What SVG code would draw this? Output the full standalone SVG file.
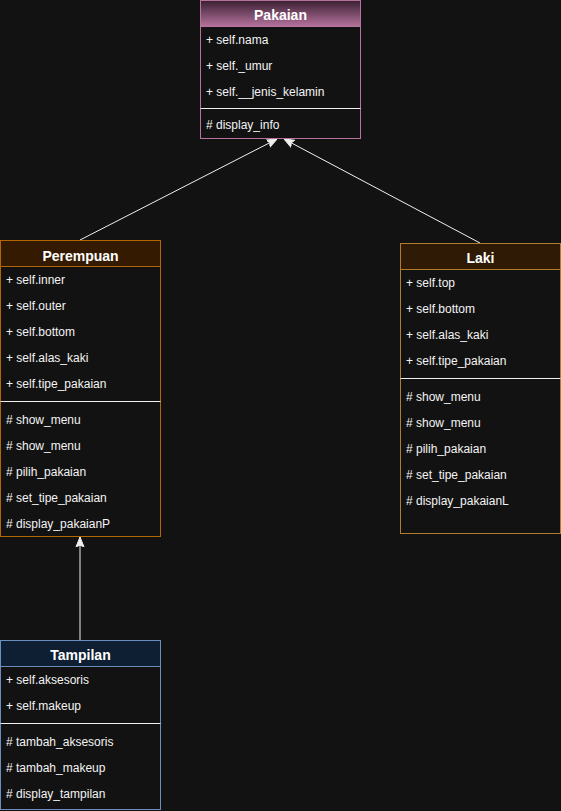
<svg xmlns="http://www.w3.org/2000/svg" width="561" height="811" viewBox="0 0 561 811">
<defs>
<linearGradient id="gPk" x1="0" y1="0" x2="0" y2="1">
<stop offset="0" stop-color="#3a1f31"/>
<stop offset="1" stop-color="#b5739d"/>
</linearGradient>
<marker id="tri" viewBox="0 0 10 10" refX="10" refY="5" markerWidth="10" markerHeight="10" markerUnits="userSpaceOnUse" orient="auto">
<path d="M0,1 L10,5 L0,9 L2,5 Z" fill="#f0f0f0" stroke="#f0f0f0" stroke-width="1"/>
</marker>
<style>
text{font-family:"Liberation Sans",Arial,sans-serif;font-size:12px;fill:#f4f4f4}
.h{font-weight:bold;font-size:14px;text-anchor:middle;fill:#ffffff}
.body{fill:#121212}
.sep{stroke:#f0f0f0;stroke-width:1}
.edge{stroke:#f0f0f0;stroke-width:1;fill:none;marker-end:url(#tri)}
</style>
</defs>
<rect width="561" height="811" fill="#121212"/>
<g id="connectors">
<line class="edge" x1="80" y1="240" x2="277" y2="139"/>
<line class="edge" x1="480" y1="243" x2="284" y2="139"/>
<line class="edge" x1="80" y1="640" x2="80" y2="537"/>
</g>
<g id="Pakaian">
<rect x="200.5" y="0.5" width="160" height="138" class="body" stroke="#b5739d"/>
<rect x="200.5" y="0.5" width="160" height="26" fill="url(#gPk)" stroke="#b5739d"/>
<text class="h" x="280.5" y="20">Pakaian</text>
<text x="206" y="44">+ self.nama</text>
<text x="206" y="70">+ self._umur</text>
<text x="206" y="96">+ self.__jenis_kelamin</text>
<line class="sep" x1="200.5" y1="108.5" x2="360.5" y2="108.5"/>
<text x="206" y="129"># display_info</text>
</g>
<g id="Perempuan">
<rect x="0.5" y="240.5" width="160" height="296" class="body" stroke="#b46504"/>
<rect x="0.5" y="240.5" width="160" height="26" fill="#331a00" stroke="#b46504"/>
<text class="h" x="80.5" y="261">Perempuan</text>
<text x="6" y="284">+ self.inner</text>
<text x="6" y="310">+ self.outer</text>
<text x="6" y="336">+ self.bottom</text>
<text x="6" y="362">+ self.alas_kaki</text>
<text x="6" y="388">+ self.tipe_pakaian</text>
<line class="sep" x1="0.5" y1="401.5" x2="160.5" y2="401.5"/>
<text x="6" y="424"># show_menu</text>
<text x="6" y="450"># show_menu</text>
<text x="6" y="476"># pilih_pakaian</text>
<text x="6" y="502"># set_tipe_pakaian</text>
<text x="6" y="528"># display_pakaianP</text>
</g>
<g id="Laki">
<rect x="400.5" y="243.5" width="160" height="290" class="body" stroke="#b07d2b"/>
<rect x="400.5" y="243.5" width="160" height="26" fill="#2e1a05" stroke="#b07d2b"/>
<text class="h" x="480.5" y="263">Laki</text>
<text x="406" y="287">+ self.top</text>
<text x="406" y="313">+ self.bottom</text>
<text x="406" y="339">+ self.alas_kaki</text>
<text x="406" y="365">+ self.tipe_pakaian</text>
<line class="sep" x1="400.5" y1="378.5" x2="560.5" y2="378.5"/>
<text x="406" y="401"># show_menu</text>
<text x="406" y="427"># show_menu</text>
<text x="406" y="453"># pilih_pakaian</text>
<text x="406" y="479"># set_tipe_pakaian</text>
<text x="406" y="505"># display_pakaianL</text>
</g>
<g id="Tampilan">
<rect x="0.5" y="640.5" width="160" height="169" class="body" stroke="#6c8ebf"/>
<rect x="0.5" y="640.5" width="160" height="26" fill="#0e1e33" stroke="#6c8ebf"/>
<text class="h" x="80.5" y="660">Tampilan</text>
<text x="6" y="684">+ self.aksesoris</text>
<text x="6" y="710">+ self.makeup</text>
<line class="sep" x1="0.5" y1="723.5" x2="160.5" y2="723.5"/>
<text x="6" y="746"># tambah_aksesoris</text>
<text x="6" y="772"># tambah_makeup</text>
<text x="6" y="798"># display_tampilan</text>
</g>
</svg>
